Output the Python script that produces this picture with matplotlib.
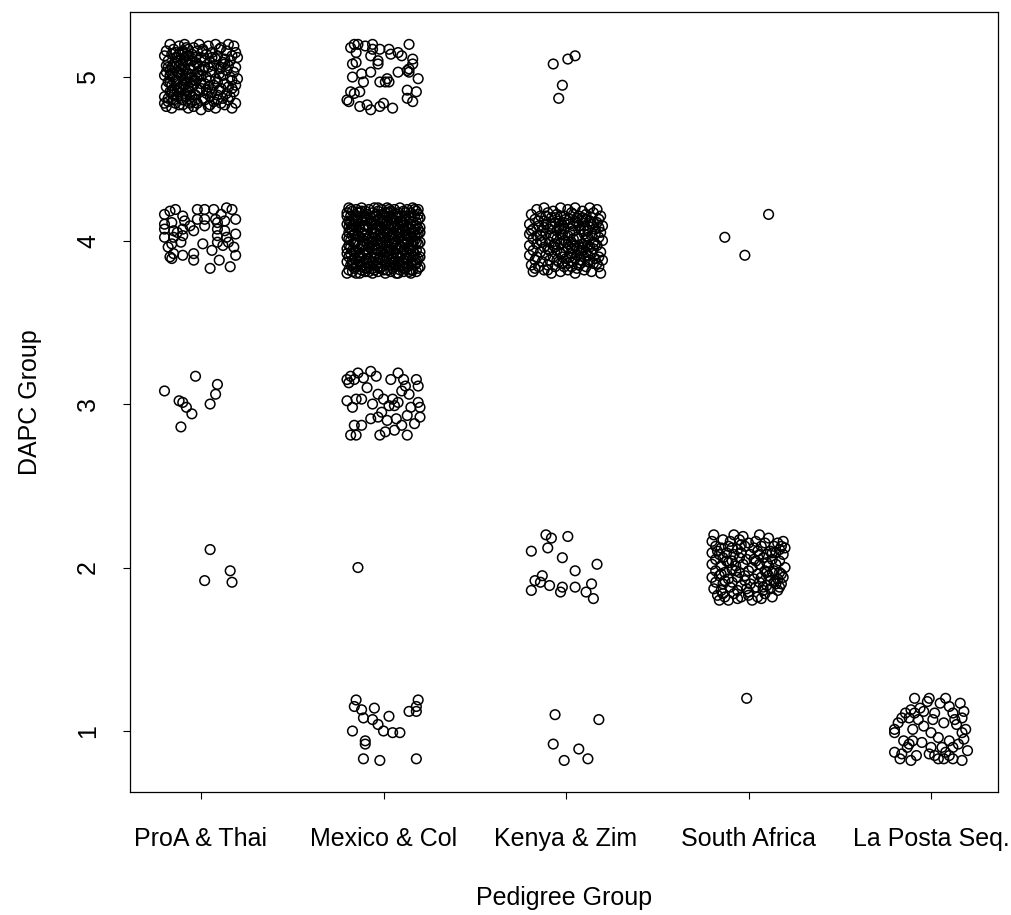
import numpy as np
import matplotlib
matplotlib.use("Agg")
import matplotlib.pyplot as plt

plt.rcParams['font.family'] = ['Liberation Sans', 'DejaVu Sans']

## Category labels
pedigree_labels = ["ProA & Thai", "Mexico & Col", "Kenya & Zim", "South Africa", "La Posta Seq."]
dapc_ticks = [1, 2, 3, 4, 5]

## Jittered offsets of each individual, in hundredths of a unit (dx, dy)
## from its pedigree group (x) and DAPC group (y)
proa_5 = [(-17,20),(-12,19),(-9,20),(-4,18),(-1,20),(4,19),(8,20),(11,18),(15,20),(18,19),
          (-19,16),(-15,17),(-10,15),(-7,17),(-2,16),(1,17),(6,15),(10,17),(14,16),(19,15),
          (-20,13),(-16,14),(-13,12),(-8,13),(-5,14),(0,12),(3,14),(9,13),(13,11),(17,13),(20,12),
          (-18,10),(-14,9),(-11,11),(-6,10),(-3,9),(2,10),(5,9),(8,11),(12,9),(16,10),
          (-19,7),(-16,6),(-12,7),(-9,5),(-4,7),(-1,6),(4,6),(7,7),(11,6),(15,7),(19,6),
          (-17,4),(-13,3),(-10,4),(-7,2),(-2,3),(1,4),(6,3),(10,2),(14,4),(18,3),
          (-20,1),(-15,0),(-11,1),(-8,-1),(-5,0),(-1,1),(3,0),(8,-1),(12,1),(16,0),(20,-1),
          (-18,-3),(-14,-2),(-10,-4),(-6,-3),(-3,-2),(2,-4),(5,-2),(9,-3),(13,-4),(17,-2),
          (-19,-6),(-16,-5),(-12,-7),(-7,-6),(-4,-5),(0,-7),(4,-6),(7,-5),(11,-7),(15,-6),(19,-5),
          (-17,-9),(-13,-8),(-9,-10),(-6,-9),(-1,-8),(3,-10),(6,-9),(10,-8),(14,-10),(18,-9),
          (-20,-12),(-15,-11),(-11,-13),(-8,-12),(-3,-11),(1,-13),(5,-12),(9,-11),(12,-13),(16,-12),
          (-18,-15),(-14,-16),(-10,-14),(-5,-15),(-2,-16),(2,-14),(7,-15),(11,-16),(15,-14),(19,-16),
          (-19,-18),(-16,-19),(-12,-17),(-7,-19),(-4,-18),(0,-20),(4,-18),(8,-19),(13,-17),(17,-19),
          (-15,8),(-12,3),(-9,-2),(-13,-4),(-6,5),(-16,-9),(-11,8),(-8,9),(-14,12),(-7,-8),(-3,12),(-10,16),
          (-17,1),(-5,-12),(-12,-10),(-2,-1),(-9,12),(-18,6),(2,6),(-6,-16),(0,-4),(-15,-14),
          (-14,15),(-11,5),(-17,-3),(-8,2),(-13,-12),(-5,10),(-19,3),(-9,-5),(-15,-7),(-6,-11),
          (-12,14),(-4,-2),(-18,-13),(-10,-17),(-2,8),(-7,13),(-16,2),(-11,-6),(0,1),(3,-8),
          (6,12),(9,-14),(13,8),(17,-7),(-3,-14),(1,16),(-20,-16),(5,-17),(10,5),(-8,18)]

proa_4 = [(-20,16),(-17,18),(-14,19),(-10,15),(-9,12),(-2,19),(2,19),(7,19),(14,20),(17,19),
          (-2,13),(2,13),(8,13),(9,11),(13,12),(19,13),(-20,10),(-16,11),(-20,7),(-15,6),
          (-10,7),(-4,6),(2,9),(9,7),(13,6),(19,4),(-20,2),(-15,2),(-10,3),(9,3),
          (14,2),(-16,-2),(-11,-1),(1,-2),(9,-1),(15,-1),(-15,-8),(-10,-9),(-4,-8),(18,-4),
          (19,-9),(-16,-11),(-4,-12),(5,-17),(10,-12),(16,-16),(-17,-10),(-13,5),(-6,9),(11,16),
          (6,-6),(-18,-4),(12,-3)]

proa_3 = [(-3,17),(-20,8),(9,12),(8,6),(5,0),(-12,2),(-10,1),(-8,-2),(-5,-6),(-11,-14)]

proa_2 = [(5,11),(16,-2),(2,-8),(17,-9)]

mexico_5 = [(-16,20),(-14,20),(-6,20),(-2,17),(3,17),(8,15),(14,20),(-18,18),(-15,15),(-6,17),
            (-7,13),(-3,10),(4,14),(-15,9),(-17,8),(-3,8),(16,11),(16,8),(14,5),(13,4),
            (-17,0),(-12,2),(-7,3),(8,3),(14,3),(19,-1),(-2,-3),(1,-3),(3,-3),(2,-1),
            (-18,-9),(-13,-9),(-16,-10),(13,-8),(18,-9),(-20,-14),(-19,-15),(-13,-18),(-7,-20),(-2,-18),
            (0,-16),(5,-19),(13,-13),(-10,19),(10,13),(-9,-17),(16,-15),(-11,-3)]

mexico_4 = [(-19,20),(-15,19),(-12,20),(-8,19),(-5,20),(-1,19),(2,20),(6,19),(9,20),(13,19),(16,20),(19,19),
            (-20,17),(-17,18),(-13,17),(-10,18),(-6,17),(-3,18),(1,17),(4,18),(8,17),(11,18),(15,17),(18,18),
            (-18,15),(-14,14),(-11,15),(-7,14),(-4,15),(0,14),(3,15),(7,14),(10,15),(14,14),(17,15),(20,14),
            (-19,12),(-16,13),(-12,12),(-9,13),(-5,12),(-2,13),(2,12),(5,13),(9,12),(12,13),(16,12),(19,13),
            (-20,10),(-17,9),(-13,10),(-10,9),(-6,10),(-3,9),(1,10),(4,9),(8,10),(11,9),(15,10),(18,9),
            (-18,7),(-15,8),(-11,7),(-8,8),(-4,7),(-1,8),(3,7),(6,8),(10,7),(13,8),(17,7),(20,8),
            (-19,5),(-16,4),(-12,5),(-9,4),(-5,5),(-2,4),(2,5),(5,4),(9,5),(12,4),(16,5),(19,4),
            (-20,2),(-17,3),(-13,2),(-10,3),(-6,2),(-3,3),(1,2),(4,3),(8,2),(11,3),(15,2),(18,3),
            (-18,0),(-15,-1),(-11,0),(-8,-1),(-4,0),(-1,-1),(3,0),(6,-1),(10,0),(13,-1),(17,0),(20,-1),
            (-19,-3),(-16,-2),(-12,-3),(-9,-2),(-5,-3),(-2,-2),(2,-3),(5,-2),(9,-3),(12,-2),(16,-3),(19,-2),
            (-20,-5),(-17,-6),(-13,-5),(-10,-6),(-6,-5),(-3,-6),(1,-5),(4,-6),(8,-5),(11,-6),(15,-5),(18,-6),
            (-18,-8),(-15,-7),(-11,-8),(-8,-7),(-4,-8),(-1,-7),(3,-8),(6,-7),(10,-8),(13,-7),(17,-8),(20,-7),
            (-19,-10),(-16,-11),(-12,-10),(-9,-11),(-5,-10),(-2,-11),(2,-10),(5,-11),(9,-10),(12,-11),(16,-10),(19,-11),
            (-20,-13),(-17,-12),(-13,-13),(-10,-12),(-6,-13),(-3,-12),(1,-13),(4,-12),(8,-13),(11,-12),(15,-13),(18,-12),
            (-18,-15),(-15,-16),(-11,-15),(-8,-16),(-4,-15),(-1,-16),(3,-15),(6,-16),(10,-15),(13,-16),(17,-15),(20,-16),
            (-19,-18),(-16,-17),(-12,-18),(-9,-17),(-5,-18),(-2,-17),(2,-18),(5,-17),(9,-18),(12,-17),(16,-18),(19,-17),
            (-20,-20),(-17,-19),(-13,-20),(-10,-19),(-6,-20),(-3,-19),(1,-20),(4,-19),(8,-20),(11,-19),(15,-20),(18,-19),
            (-14,6),(-7,11),(0,4),(7,-3),(-3,-14),(10,12),(14,-9),(-16,-7),(3,17),(-9,1),(12,6),(5,-13),
            (-1,11),(-12,-16),(17,3),(8,15),(-5,-8),(1,-1),(-18,11),(15,-18),(6,1),(-10,15),(11,-14),(-2,7),
            (-15,12),(-8,-4),(0,-9),(7,6),(14,-5),(-4,16),(9,-16),(-13,-9),(18,11),(-6,-1),(4,14),(-11,4),
            (2,-6),(12,17),(-17,-15),(16,-1),(-1,2),(8,-10),(-9,-14),(19,7),
            (-18,19),(-14,17),(-9,16),(-3,20),(3,19),(7,16),(12,15),(17,19),(-20,15),(-16,10),
            (-12,14),(-7,12),(0,12),(5,11),(11,11),(19,16),(-17,6),(-13,8),(-6,7),(1,6),
            (8,4),(14,7),(20,5),(-19,1),(-14,3),(-7,-1),(-2,1),(5,2),(12,1),(18,-1),
            (-18,-4),(-11,-2),(-4,-5),(3,-4),(10,-4),(16,-6),(-20,-8),(-14,-9),(-7,-10),(0,-12),
            (7,-9),(13,-11),(20,-10),(-17,-14),(-10,-17),(-3,-16),(4,-15),(11,-17),(18,-14),(-15,-20),
            (-8,-19),(0,-18),(7,-20),(14,-19),(-5,4),(9,8),(-9,-8),(6,-13),(-1,16),(15,14),
            (-16,-1),(3,10),(-12,18),(10,-1),(17,-12),(-6,-17),(13,3),(-19,8),(2,-7),(-4,10)]

mexico_3 = [(-20,15),(-18,17),(-16,15),(-14,19),(-11,16),(-7,20),(-4,17),(4,15),(8,19),(11,15),
            (12,11),(18,15),(19,11),(-20,2),(-15,3),(-17,-2),(-3,6),(0,3),(5,3),(-6,0),
            (3,-1),(6,-1),(15,-2),(19,1),(20,-2),(-1,-5),(-3,-8),(2,-10),(7,-9),(13,-7),
            (20,-8),(-16,-13),(-12,-13),(-18,-19),(-15,-19),(-2,-19),(6,-16),(13,-19),(10,-13),(-19,13),
            (-12,3),(8,1),(14,6),(-7,-9),(17,-12),(1,-17),(-9,10),(10,8)]

mexico_2 = [(-14,0)]

mexico_1 = [(-15,19),(-16,15),(-12,13),(-5,14),(-11,8),(-6,7),(-3,4),(3,9),(0,0),(5,-1),
            (9,-1),(-17,0),(-10,-6),(-10,-8),(-11,-17),(-2,-18),(18,-17),(19,19),(18,15),(14,12),
            (18,12)]

kenya_5 = [(-7,8),(1,11),(5,13),(-2,-5),(-4,-13)]

kenya_4 = [(-16,19),(-12,20),(-7,18),(-3,20),(1,19),(5,20),(9,18),(13,20),(17,19),
           (-19,16),(-14,15),(-10,17),(-5,16),(-1,15),(3,17),(7,15),(11,16),(15,17),(19,15),
           (-17,13),(-12,12),(-8,14),(-4,12),(0,13),(5,12),(9,14),(13,12),(18,13),
           (-20,10),(-15,9),(-11,10),(-6,11),(-2,9),(2,10),(6,11),(10,9),(14,10),(17,11),(20,9),
           (-18,7),(-13,6),(-9,7),(-5,6),(-1,7),(4,6),(8,7),(12,6),(16,7),(19,5),
           (-20,4),(-16,3),(-11,4),(-7,2),(-3,4),(1,3),(6,2),(10,4),(14,3),(18,2),
           (-18,1),(-14,0),(-9,-1),(-5,1),(-1,0),(3,-1),(7,1),(11,0),(15,-1),(20,0),
           (-20,-3),(-16,-2),(-12,-4),(-7,-3),(-3,-2),(1,-4),(5,-3),(9,-2),(13,-4),(17,-3),
           (-18,-6),(-14,-7),(-10,-5),(-5,-6),(-1,-7),(3,-5),(7,-6),(11,-7),(15,-5),(19,-7),
           (-20,-9),(-16,-10),(-11,-9),(-7,-10),(-3,-8),(2,-10),(6,-9),(10,-10),(14,-8),(18,-10),
           (-17,-12),(-13,-13),(-9,-12),(-4,-13),(0,-11),(4,-13),(8,-12),(12,-13),(16,-11),(20,-12),
           (-19,-15),(-15,-16),(-10,-15),(-6,-16),(-2,-14),(3,-16),(7,-15),(11,-16),(15,-14),(18,-16),
           (-18,-19),(-12,-18),(-8,-20),(-3,-19),(1,-18),(5,-20),(10,-18),(14,-19),(19,-20),
           (-8,3),(-4,8),(2,5),(6,-5),(-2,-10),(9,12),(12,-3),(-6,14),(4,16),(0,-1),
           (-12,8),(16,4),(-9,-6),(8,-14),(14,14),(-1,11),(3,-8),(10,6),
           (4,1),(-2,4),(7,9),(12,-9),(-6,-2),(1,-14),(9,-6),(15,11),(-3,15),(6,14),
           (-15,12),(-8,10),(-3,7),(4,9),(11,13),(16,-2),(-13,-1),(-6,-4),(1,-2),(8,-8),
           (13,-12),(-17,-17),(-10,-18),(-1,-16),(6,-17),(17,-14),(-19,6),(-14,3),(5,-11),(12,2),
           (-5,-12),(18,8),(-11,15),(2,13),(9,-4)]

kenya_2 = [(-11,20),(-8,18),(1,19),(-19,10),(-10,12),(-2,6),(17,2),(5,-2),(-13,-5),(-17,-8),
           (-14,-9),(-9,-11),(-19,-14),(-2,-12),(-3,-15),(5,-12),(11,-15),(14,-10),(15,-19)]

kenya_1 = [(-6,10),(18,7),(-7,-8),(7,-11),(-1,-18),(12,-17)]

safrica_4 = [(-13,2),(11,16),(-2,-9)]

safrica_2 = [(-19,20),(-8,20),(-3,19),(6,20),(11,18),(16,15),(19,16),
             (-20,16),(-14,17),(-10,16),(-5,17),(0,15),(4,16),(9,15),(14,13),(18,13),
             (-18,13),(-15,12),(-11,13),(-6,11),(-2,13),(3,12),(7,13),(12,10),(17,11),(20,12),
             (-20,9),(-16,8),(-12,9),(-8,8),(-4,9),(1,8),(5,10),(10,8),(15,9),(19,8),
             (-18,5),(-14,6),(-9,4),(-5,6),(-1,5),(4,4),(8,6),(13,5),(17,4),
             (-20,2),(-15,1),(-11,3),(-7,1),(-3,2),(2,0),(6,2),(11,1),(15,2),(20,0),
             (-18,-2),(-13,-3),(-9,-1),(-5,-3),(0,-2),(5,-4),(9,-2),(13,-3),(18,-4),
             (-20,-6),(-16,-5),(-11,-7),(-6,-6),(-2,-5),(3,-7),(7,-6),(11,-5),(16,-7),(19,-6),
             (-18,-9),(-14,-10),(-9,-9),(-4,-11),(1,-10),(6,-9),(10,-11),(14,-9),(18,-10),
             (-19,-13),(-15,-14),(-10,-12),(-6,-14),(-1,-13),(4,-12),(8,-14),(12,-13),(17,-12),
             (-17,-17),(-13,-18),(-8,-16),(-4,-18),(0,-17),(5,-18),(9,-16),(13,-18),
             (-16,-20),(-11,-20),(-6,-19),(2,-20),(7,-19),
             (10,-3),(12,-8),(15,-10),(14,-2),(-14,-16),(-15,-4),
             (-17,10),(-12,4),(-7,-2),(-2,-8),(3,5),(8,-12),(13,9),(17,-3),(-9,12),(0,-15),
             (6,8),(-13,-8),(10,3),(16,-14),(-4,14)]

safrica_1 = [(-1,20)]

laposta_1 = [(-9,20),(-1,20),(-2,18),(8,20),(5,17),(16,17),(-11,13),(-14,11),(-9,11),(-4,12),
             (2,11),(12,11),(18,12),(-16,8),(-12,8),(-7,7),(1,7),(13,7),(17,8),(7,5),
             (14,4),(-20,1),(-10,1),(19,1),(17,-1),(-20,-1),(0,-1),(-15,-6),(-10,-6),(-5,-7),
             (-12,-8),(0,-10),(10,-6),(6,-10),(12,-10),(20,-12),(-20,-13),(-16,-14),(-17,-17),(-11,-18),
             (2,-15),(4,-17),(7,-17),(10,-15),(12,-17),(17,-18),(-1,-14),(-6,14),(10,15),(-13,-10),
             (15,-8),(4,-4),(-4,3),(8,-13),(-8,-15),(18,-5),(-18,5)]

## (pedigree group, DAPC group, offsets)
clusters = [(1, 5, proa_5), (1, 4, proa_4), (1, 3, proa_3), (1, 2, proa_2),
            (2, 5, mexico_5), (2, 4, mexico_4), (2, 3, mexico_3), (2, 2, mexico_2), (2, 1, mexico_1),
            (3, 5, kenya_5), (3, 4, kenya_4), (3, 2, kenya_2), (3, 1, kenya_1),
            (4, 4, safrica_4), (4, 2, safrica_2), (4, 1, safrica_1),
            (5, 1, laposta_1)]

fig = plt.figure(figsize=(10.12, 9.15), dpi=100)
ax = fig.add_axes([130/1012, 1-792/915, 868/1012, 780/915])

for grp, dapc, offs in clusters:
    offs = np.array(offs, dtype=float) / 100.0
    ax.scatter(grp + offs[:, 0], dapc + offs[:, 1], s=48, facecolors='none',
               edgecolors='black', linewidths=1.1)

ax.set_xlim(0.611, 5.367)
ax.set_ylim(0.627, 5.398)
ax.set_xticks(range(1, 6))
ax.set_xticklabels(pedigree_labels)
ax.set_yticks(dapc_ticks)
ax.tick_params(direction='out', length=5, width=0.8, labelsize=18)
ax.tick_params(axis='x', pad=20.5)
ax.tick_params(axis='y', pad=16.5)
plt.setp(ax.get_yticklabels(), rotation=90, va='center')
for sp in ax.spines.values():
    sp.set_linewidth(0.9)

ax.set_xlabel("Pedigree Group", fontsize=18)
ax.xaxis.set_label_coords(0.5, -0.136)
ax.xaxis.label.set_va('center')
ax.set_ylabel("DAPC Group", fontsize=18)
ax.yaxis.set_label_coords(-0.1152, 0.5)
ax.yaxis.label.set_va('center')

plt.savefig("out.png", dpi=100)
plt.close()
